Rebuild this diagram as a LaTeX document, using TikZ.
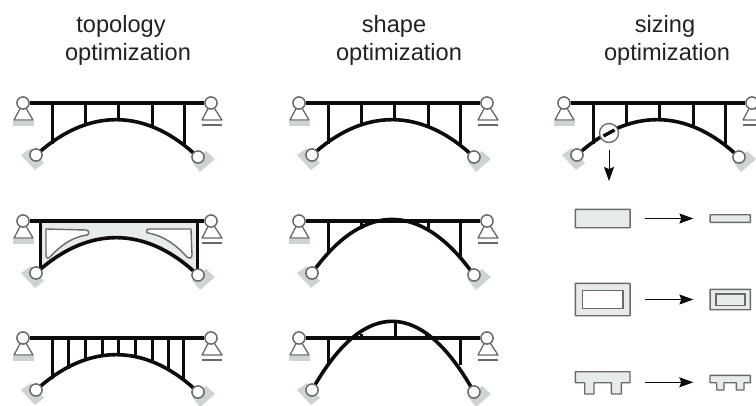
\documentclass[tikz,border=0pt]{standalone}
\usepackage{fontspec}
\setmainfont{Liberation Sans}
\usetikzlibrary{arrows.meta}
\definecolor{padgray}{HTML}{CDD5D3}
\definecolor{secfill}{HTML}{E8EBEB}
\definecolor{secline}{HTML}{666A6A}
\definecolor{inkc}{HTML}{0C0C0C}
\definecolor{textc}{HTML}{222222}
\tikzset{
  x=1pt,y=-1pt,
  title/.style={font=\fontsize{23.6}{28}\selectfont,text=textc,anchor=base,inner sep=0pt},
  joint/.style={circle,draw=secline,line width=1.3pt,fill=white,minimum size=12pt,inner sep=0pt},
  member/.style={draw=inkc,line width=3pt},
  decklane/.style={draw=inkc,line width=3.2pt},
  archline/.style={draw=inkc,line width=3.6pt},
  pad/.style={fill=padgray,draw=none},
  support/.style={draw=secline,line width=1.3pt,fill=white,line join=round},
  secbox/.style={draw=secline,line width=1.4pt,fill=secfill,inner sep=0pt,outer sep=0pt,rounded corners=0.5pt},
  sechole/.style={draw=secline,line width=1.4pt,fill=white,inner sep=0pt,outer sep=0pt},
  flow/.style={draw=inkc,line width=1pt,-{Stealth[length=14pt,width=10pt,inset=2pt]}},
}
\newcommand{\bridgesupports}{%
  \fill[pad] (21,155) -- (31,148) -- (44,163) -- (35,170) -- cycle;
  \fill[pad] (192,162) -- (206,151) -- (215,159) -- (200,172) -- cycle;
  \fill[pad] (13,121) rectangle (34,125.5);
  \draw[support] (23,103) -- (14,120) -- (33,120) -- cycle;
  \draw[support] (211,103) -- (202,120) -- (222,120) -- cycle;
  \draw[secline,line width=1.3pt] (202,125) -- (222,125);
}
\newcommand{\bridgejoints}[1]{%
  \node[joint] (#1tl) at (23,103) {};
  \node[joint] (#1tr) at (211,103) {};
  \node[joint] (#1bl) at (36,155) {};
  \node[joint] (#1br) at (198,157) {};
}
\newcommand{\deck}[1]{\draw[decklane] (#1tl) -- (#1tr);}
\newcommand{\archlow}[1]{\draw[archline] (#1bl) .. controls (90,109) and (144,109) .. (#1br);}
\newcommand{\hangers}[1]{%
  \foreach \hx in {#1} {\draw[member] (\hx,103) -- (\hx,{121+0.00533*(\hx-117)*(\hx-117)});}
}
\begin{document}
\begin{tikzpicture}
\useasboundingbox (0,0) rectangle (756,405);
\clip (0,0) rectangle (756,405);
% titles
\node[title] (t1a) at (121,32.5) {topology};
\node[title] (t1b) at (128,60.5) {optimization};
\node[title] (t2a) at (394,32.5) {shape};
\node[title] (t2b) at (399,60.5) {optimization};
\node[title] (t3a) at (665,32.5) {sizing};
\node[title] (t3b) at (667,60.5) {optimization};

% column 1, row 1
\begin{scope}
  \bridgesupports \bridgejoints{a}
  \hangers{52,85,118,152,184}
  \archlow{a} \deck{a}
  \bridgejoints{a}
\end{scope}
% column 1, row 2
\begin{scope}[shift={(0,118)}]
  \bridgesupports \bridgejoints{b}
  \fill[secfill] (40,104) -- (197,104) -- (197,155) .. controls (144,109) and (90,109) .. (40,153) -- cycle;
  \draw[sechole,line join=round] (46,111) -- (86,112) .. controls (89,112) and (90,116) .. (87,117)
     .. controls (72,119) and (60,128) .. (50,139) .. controls (48,141) and (46,140) .. (46,137) -- cycle;
  \draw[sechole,line join=round] (191,111) -- (149,111) .. controls (146,111) and (146,115) .. (148,115)
     .. controls (165,118) and (177,128) .. (187,139) .. controls (190,141) and (192,140) .. (192,137) -- cycle;
  \draw[member] (40,103) -- (40,153);
  \draw[member] (197,103) -- (197,155);
  \archlow{b} \deck{b}
  \bridgejoints{b}
\end{scope}
% column 1, row 3
\begin{scope}[shift={(0,235)}]
  \bridgesupports \bridgejoints{c}
  \hangers{52,68,85,102,118,135,152,168,183}
  \archlow{c} \deck{c}
  \bridgejoints{c}
\end{scope}

% column 2, row 1
\begin{scope}[shift={(276,0)}]
  \bridgesupports \bridgejoints{d}
  \hangers{52,85,118,152,184}
  \archlow{d} \deck{d}
  \bridgejoints{d}
\end{scope}
% column 2, row 2
\begin{scope}[shift={(276,118)}]
  \bridgesupports \bridgejoints{e}
  \foreach \hx in {52,85,152,184} {\draw[member] (\hx,103) -- (\hx,{103+0.00798*(\hx-116.5)*(\hx-116.5)});}
  \draw[archline] (ebl) .. controls (89,85) and (144,85) .. (ebr);
  \deck{e}
  \bridgejoints{e}
\end{scope}
% column 2, row 3
\begin{scope}[shift={(276,235)}]
  \bridgesupports \bridgejoints{f}
  \draw[member] (52,103) -- (52,128);
  \draw[member] (184,103) -- (184,130);
  \draw[member] (85,103) -- (85,99);
  \draw[member] (119,103) -- (119,88);
  \draw[member] (150,103) -- (150,99);
  \draw[archline] (fbl) .. controls (89,65) and (144,65) .. (fbr);
  \deck{f}
  \bridgejoints{f}
\end{scope}

% column 3, row 1
\begin{scope}[shift={(541,0)}]
  \bridgesupports \bridgejoints{g}
  \hangers{52,85,118,152,184}
  \archlow{g} \deck{g}
  \bridgejoints{g}
  \node[circle,draw=secline,line width=1.3pt,fill=white,minimum size=19pt,inner sep=0pt] (brk) at (68,133) {};
  \draw[inkc,line width=3.4pt] (62.5,136) -- (73.5,130);
  \coordinate (brkend) at (68,181);
  \draw[flow,shorten <=6.5pt] (brk) -- (brkend);
\end{scope}

% sections, row 1
\node[secbox,minimum width=54.7pt,minimum height=18.4pt] (s1a) at (602.7,218.5) {};
\node[secbox,minimum width=40.3pt,minimum height=7.6pt] (s1b) at (730.2,218.5) {};
\draw[flow,shorten <=14.7pt,shorten >=16.7pt] (s1a) -- (s1b);
% sections, row 2
\node[secbox,minimum width=54.7pt,minimum height=32.4pt] (s2a) at (602.7,299.5) {};
\node[sechole,minimum width=40.3pt,minimum height=18.4pt] (s2ah) at (602.9,299.5) {};
\node[secbox,minimum width=40.3pt,minimum height=20.4pt] (s2b) at (730.2,299.5) {};
\node[sechole,fill=secfill,minimum width=29pt,minimum height=11.3pt] (s2bh) at (730.5,299.6) {};
\draw[flow,shorten <=14.7pt,shorten >=16.7pt] (s2a) -- (s2b);
% sections, row 3
\draw[secbox] (575.3,371.7) -- (630,371.7) -- (630,382.7) -- (621.3,382.7) -- (621.3,394) -- (611.3,394) -- (611.3,382.7)
  -- (594,382.7) -- (594,394) -- (584.7,394) -- (584.7,382.7) -- (575.3,382.7) -- cycle;
\draw[secbox] (710,375.3) -- (750.3,375.3) -- (750.3,382.7) -- (744,382.7) -- (744,390) -- (736.3,390) -- (736.3,382.7)
  -- (724,382.7) -- (724,390) -- (716.7,390) -- (716.7,382.7) -- (710,382.7) -- cycle;
\coordinate (s3a) at (644.7,382.3);
\coordinate (s3b) at (693.3,382.3);
\draw[flow] (s3a) -- (s3b);
\end{tikzpicture}
\end{document}
